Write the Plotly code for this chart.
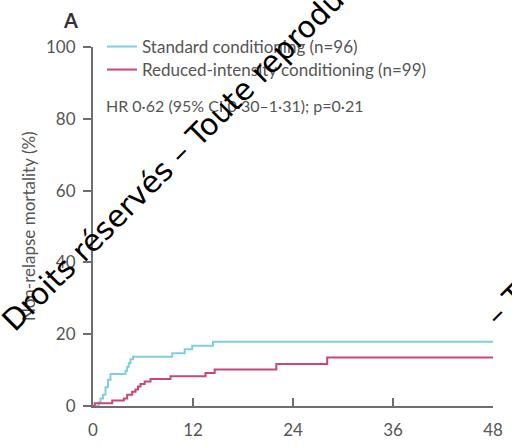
import plotly.graph_objects as go

# Data (months, cumulative %)
std_months = [0, 0.7, 0.9, 1.2, 1.5, 1.8, 2.1, 3.9, 4.1, 4.3, 4.5, 4.8, 9.5, 11.0, 11.9, 14.4, 48]
std_values = [0, 1.0, 2.1, 3.1, 5.2, 7.3, 8.9, 9.8, 10.9, 12.0, 13.0, 13.7, 14.7, 15.8, 16.8, 17.9, 17.9]

ric_months = [0, 0.2, 2.3, 3.7, 4.1, 4.7, 5.1, 5.4, 5.7, 6.2, 6.9, 9.3, 13.5, 14.6, 22.0, 28.1, 48]
ric_values = [0, 0.8, 1.5, 2.1, 3.1, 4.0, 4.6, 5.4, 6.1, 6.8, 7.5, 8.3, 9.2, 10.2, 11.7, 13.5, 13.5]

x_ticks = [0, 12, 24, 36, 48]
y_ticks = [0, 20, 40, 60, 80, 100]

series_names = ["Standard conditioning (n=96)", "Reduced-intensity conditioning (n=99)"]
hr_text = "HR 0·62 (95% CI 0·30–1·31); p=0·21"
panel_label = "A"
y_title = "Non-relapse mortality (%)"
watermark_1 = "Droits réservés – Toute reproduction"
watermark_2 = "– Toute reproduction"

BLUE = "#80d0db"
RED = "#c9457a"
GREY = "#555555"
AXIS = "#6e6e6e"
FONT = "Lato"

W, H = 512, 448
L, R, T, B = 93, 19, 47, 42
PW, PH = W - L - R, H - T - B


def px(x):
    return (x - L) / PW


def py(y):
    return (H - B - y) / PH


fig = go.Figure()
fig.add_trace(go.Scatter(x=std_months, y=std_values, mode="lines", name=series_names[0],
                         line=dict(color=BLUE, width=2, shape="hv"), cliponaxis=False,
                         legend="legend"))
fig.add_trace(go.Scatter(x=ric_months, y=ric_values, mode="lines", name=series_names[1],
                         line=dict(color=RED, width=2, shape="hv"), cliponaxis=False,
                         legend="legend2"))

leg_common = dict(xanchor="left", yanchor="top", bgcolor="rgba(0,0,0,0)",
                  font=dict(family=FONT, size=17, color=GREY), itemwidth=30)

fig.update_layout(
    width=W, height=H,
    margin=dict(l=L, r=R, t=T, b=B, autoexpand=False),
    paper_bgcolor="white", plot_bgcolor="white",
    font=dict(family=FONT, size=17, color=GREY),
    showlegend=True,
    legend=dict(x=px(102), y=py(29), **leg_common),
    legend2=dict(x=px(102), y=py(52), **leg_common),
    xaxis=dict(range=[0, 48], tickvals=x_ticks, ticks="inside", ticklen=8, tickwidth=1.5,
               tickcolor=AXIS, showline=True, linecolor=AXIS, linewidth=2,
               showgrid=False, zeroline=False, ticklabelstandoff=8, automargin=False,
               tickfont=dict(size=17, color=GREY)),
    yaxis=dict(range=[0, 100], tickvals=y_ticks, ticks="outside", ticklen=8, tickwidth=1.5,
               tickcolor=AXIS, showline=True, linecolor=AXIS, linewidth=2,
               showgrid=False, zeroline=False, ticklabelstandoff=4, automargin=False,
               tickfont=dict(size=17, color=GREY)),
)

# y-axis title placed as rotated text close to the tick labels
fig.add_annotation(text=y_title, xref="paper", yref="paper", x=px(28), y=py(226),
                   xanchor="center", yanchor="middle", showarrow=False, textangle=-90,
                   font=dict(size=17, color=GREY))
fig.add_annotation(text=hr_text, xref="paper", yref="paper", x=px(104), y=py(105),
                   xanchor="left", yanchor="middle", showarrow=False,
                   font=dict(size=16, color=GREY))
fig.add_annotation(text="<b>" + panel_label + "</b>", xref="paper", yref="paper",
                   x=px(70), y=py(20), xanchor="center", yanchor="middle",
                   showarrow=False, font=dict(size=20, color="#333333"))

# watermark overlay (centres computed from the dash positions seen in the reference)
for txt, cx, cy in [(watermark_1, 199.2, 133.8), (watermark_2, 599.2, 211.8)]:
    fig.add_annotation(text=txt, xref="paper", yref="paper", x=px(cx), y=py(cy),
                       xanchor="center", yanchor="middle", showarrow=False, textangle=-45,
                       font=dict(size=30, color="black", family="DejaVu Sans"))

fig.write_html("out.html")
